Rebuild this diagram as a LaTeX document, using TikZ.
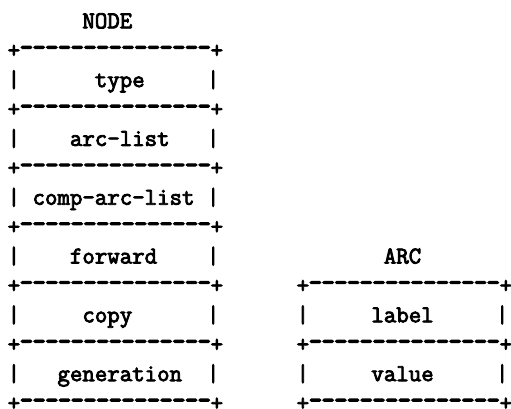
\documentclass[tikz,border=0pt]{standalone}
\usepackage{fontspec}
% typewriter face, thickened to the weight of the printed tables
\newfontfamily\asciitt{Latin Modern Mono}[FakeBold=3.4]
% a hyphen inked a little heavier, as a typewriter rule prints it
\newcommand{\wdash}{\makebox[0.525em]{\scalebox{1.08}[1.4]{-}}}
% a record rule: plus, fifteen hyphens, plus
\newcommand{\recrule}{+\wdash\wdash\wdash\wdash\wdash\wdash\wdash\wdash\wdash\wdash\wdash\wdash\wdash\wdash\wdash+}
\begin{document}
\begin{tikzpicture}[x=1pt,y=1pt,
  asciiline/.style={anchor=base west,inner sep=0pt,outer sep=0pt,
    font=\asciitt\fontsize{24.19pt}{29.4pt}\selectfont}]
\useasboundingbox (0,0) rectangle (511,-408);
% left column of the NODE record, right column of the ARC record
\def\lx{7.65}
\def\rx{296.65}
% baseline of text row k
\newcommand{\rowy}[1]{-(28.3+29.4*#1)}
% NODE record
\node[asciiline] (nodetitle) at (\lx,{\rowy{0}})  {~~~~~~NODE};
\node[asciiline] (nodeb0)    at (\lx,{\rowy{1}})  {\recrule};
\node[asciiline] (nodetype)  at (\lx,{\rowy{2}})  {|~~~~~~type~~~~~|};
\node[asciiline] (nodeb1)    at (\lx,{\rowy{3}})  {\recrule};
\node[asciiline] (nodearcs)  at (\lx,{\rowy{4}})  {|~~~~arc-list~~~|};
\node[asciiline] (nodeb2)    at (\lx,{\rowy{5}})  {\recrule};
\node[asciiline] (nodecomp)  at (\lx,{\rowy{6}})  {|~comp-arc-list~|};
\node[asciiline] (nodeb3)    at (\lx,{\rowy{7}})  {\recrule};
\node[asciiline] (nodefwd)   at (\lx,{\rowy{8}})  {|~~~~forward~~~~|};
\node[asciiline] (nodeb4)    at (\lx,{\rowy{9}})  {\recrule};
\node[asciiline] (nodecopy)  at (\lx,{\rowy{10}}) {|~~~~~copy~~~~~~|};
\node[asciiline] (nodeb5)    at (\lx,{\rowy{11}}) {\recrule};
\node[asciiline] (nodegen)   at (\lx,{\rowy{12}}) {|~~~generation~~|};
\node[asciiline] (nodeb6)    at (\lx,{\rowy{13}}) {\recrule};
% ARC record
\node[asciiline] (arctitle)  at (\rx,{\rowy{8}})  {~~~~~~~ARC};
\node[asciiline] (arcb0)     at (\rx,{\rowy{9}})  {\recrule};
\node[asciiline] (arclabel)  at (\rx,{\rowy{10}}) {|~~~~~label~~~~~|};
\node[asciiline] (arcb1)     at (\rx,{\rowy{11}}) {\recrule};
\node[asciiline] (arcvalue)  at (\rx,{\rowy{12}}) {|~~~~~value~~~~~|};
\node[asciiline] (arcb2)     at (\rx,{\rowy{13}}) {\recrule};
\end{tikzpicture}
\end{document}
